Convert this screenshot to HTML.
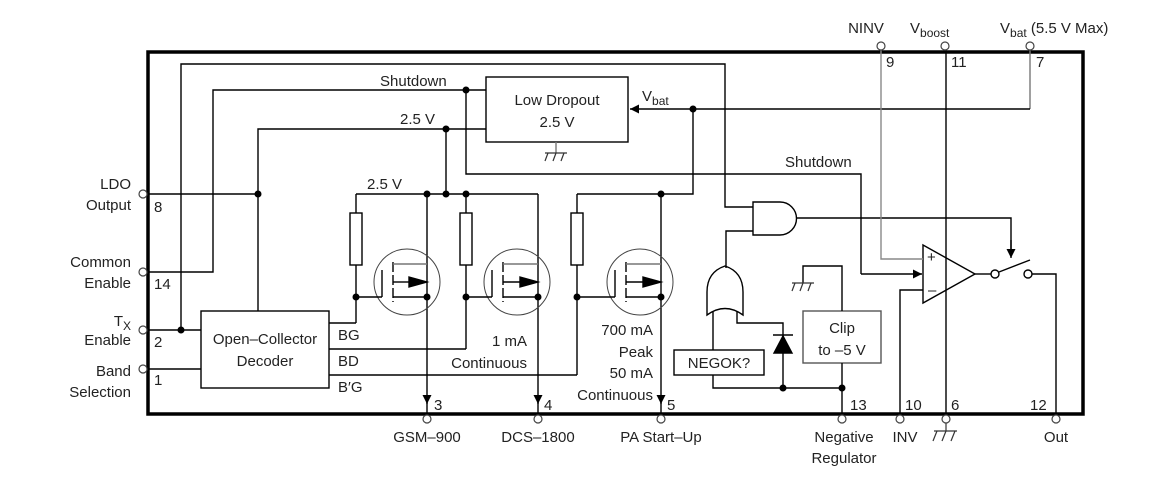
<!DOCTYPE html>
<html><head><meta charset="utf-8"><style>
body{margin:0;background:#fff}
svg{display:block}
text{font-family:"Liberation Sans",Arial,sans-serif;font-size:15px;fill:#222}
</style></head><body>
<svg width="1162" height="481" viewBox="0 0 1162 481" xmlns="http://www.w3.org/2000/svg">
<defs>
<marker id="a" viewBox="0 0 10 10" refX="10" refY="5" markerWidth="9" markerHeight="9" markerUnits="userSpaceOnUse" orient="auto"><path d="M0,0L10,5L0,10z" fill="#000"/></marker>
</defs>
<g fill="none" stroke="#000" stroke-width="1.4">
<rect x="148" y="52" width="935" height="362" stroke-width="3.5"/>
<polyline points="181,330 181,64 725,64 725,207 753,207"/>
<polyline points="148,272 213,272 213,90 486,90"/>
<polyline points="466,90 466,174 861,174 861,274"/>
<line x1="861" y1="274" x2="922" y2="274" marker-end="url(#a)"/>
<rect x="486" y="77" width="142" height="65"/>
<line x1="556" y1="142" x2="556" y2="153" stroke="#777"/>
<polyline points="258,311 258,129 486,129"/>
<line x1="446" y1="129" x2="446" y2="194"/>
<line x1="148" y1="194" x2="258" y2="194"/>
<polyline points="1030,50 1030,109" stroke="#777"/>
<polyline points="1030,109 693,109"/>
<line x1="693" y1="109" x2="630" y2="109" marker-end="url(#a)"/>
<polyline points="693,109 693,194 577,194"/>
<line x1="356" y1="194" x2="538" y2="194"/>
<line x1="356" y1="194" x2="356" y2="213"/><rect x="350" y="213" width="12" height="52" fill="#fff"/><line x1="356" y1="265" x2="356" y2="323"/>
<line x1="466" y1="194" x2="466" y2="213"/><rect x="460" y="213" width="12" height="52" fill="#fff"/><line x1="466" y1="265" x2="466" y2="349"/>
<line x1="577" y1="194" x2="577" y2="213"/><rect x="571" y="213" width="12" height="52" fill="#fff"/><line x1="577" y1="265" x2="577" y2="375"/>
<line x1="427" y1="194" x2="427" y2="404" marker-end="url(#a)"/><line x1="427" y1="400" x2="427" y2="415"/>
<line x1="538" y1="194" x2="538" y2="404" marker-end="url(#a)"/><line x1="538" y1="400" x2="538" y2="415"/>
<line x1="661" y1="194" x2="661" y2="404" marker-end="url(#a)"/><line x1="661" y1="400" x2="661" y2="415"/>
<rect x="201" y="311" width="128" height="77"/>
<line x1="148" y1="330" x2="201" y2="330"/>
<line x1="148" y1="369" x2="201" y2="369"/>
<polyline points="329,323 356,323"/>
<polyline points="329,349 466,349"/>
<polyline points="329,375 577,375"/>
<path d="M753,202 L780,202 A16.5,16.5 0 0 1 780,235 L753,235 Z"/>
<polyline points="797,218 1011,218 1011,254"/>
<line x1="1011" y1="240" x2="1011" y2="258" marker-end="url(#a)"/>
<polyline points="753,231 726,231 726,268"/>
<path d="M707,315 L707,292 Q707,272 725,266 Q743,272 743,292 L743,315 Q725,302 707,315 Z"/>
<polyline points="713,312 713,350"/>
<polyline points="737,311 737,323 783,323 783,388"/>
<path d="M774,353 L792,353 L783,336 Z" fill="#000"/>
<line x1="773" y1="335" x2="793" y2="335"/>
<rect x="674" y="350" width="90" height="25"/>
<polyline points="713,375 713,388 842,388 842,415"/>
<rect x="803" y="311" width="78" height="52" stroke="#555"/>
<polyline points="842,311 842,266 803,266 803,283"/>
<line x1="842" y1="363" x2="842" y2="388"/>
<path d="M923,245 L975,274 L923,303 Z"/>
<polyline points="881,50 881,259 923,259" stroke="#888"/>
<polyline points="900,415 900,290 923,290"/>
<line x1="946" y1="50" x2="946" y2="415"/>
<line x1="975" y1="274" x2="991" y2="274"/>
<circle cx="995" cy="274" r="4" fill="#fff"/>
<line x1="999" y1="272" x2="1030" y2="260"/>
<circle cx="1028" cy="274" r="4" fill="#fff"/>
<polyline points="1032,274 1056,274 1056,415"/>
<g>
<circle cx="407" cy="282" r="33" stroke="#444" stroke-width="1"/>
<line x1="382" y1="270" x2="382" y2="297"/><line x1="356" y1="297" x2="382" y2="297"/>
<line x1="393" y1="262" x2="393" y2="302" stroke-dasharray="10,3"/>
<line x1="393" y1="264" x2="427" y2="264" stroke="#777"/>
<line x1="393" y1="282" x2="409" y2="282"/><path d="M409,277 L427,282 L409,287Z" fill="#000"/>
<line x1="393" y1="297" x2="427" y2="297"/>
</g>
<g transform="translate(110,0)">
<circle cx="407" cy="282" r="33" stroke="#444" stroke-width="1"/>
<line x1="382" y1="270" x2="382" y2="297"/><line x1="356" y1="297" x2="382" y2="297"/>
<line x1="393" y1="262" x2="393" y2="302" stroke-dasharray="10,3"/>
<line x1="393" y1="264" x2="428" y2="264" stroke="#777"/>
<line x1="393" y1="282" x2="410" y2="282"/><path d="M410,277 L428,282 L410,287Z" fill="#000"/>
<line x1="393" y1="297" x2="428" y2="297"/>
</g>
<g transform="translate(233,0)">
<circle cx="407" cy="282" r="33" stroke="#444" stroke-width="1"/>
<line x1="382" y1="270" x2="382" y2="297"/><line x1="344" y1="297" x2="382" y2="297"/>
<line x1="393" y1="262" x2="393" y2="302" stroke-dasharray="10,3"/>
<line x1="393" y1="264" x2="428" y2="264" stroke="#777"/>
<line x1="393" y1="282" x2="410" y2="282"/><path d="M410,277 L428,282 L410,287Z" fill="#000"/>
<line x1="393" y1="297" x2="428" y2="297"/>
</g>
<g stroke="#333" stroke-width="1.2">
<line x1="545" y1="153" x2="567" y2="153"/><line x1="548" y1="153" x2="545" y2="161"/><line x1="556" y1="153" x2="553" y2="161"/><line x1="564" y1="153" x2="561" y2="161"/>
<line x1="792" y1="283" x2="814" y2="283"/><line x1="795" y1="283" x2="792" y2="291"/><line x1="803" y1="283" x2="800" y2="291"/><line x1="811" y1="283" x2="808" y2="291"/>
<line x1="946" y1="423" x2="946" y2="431"/><line x1="934" y1="431" x2="957" y2="431"/><line x1="937" y1="431" x2="933" y2="441"/><line x1="946" y1="431" x2="942" y2="441"/><line x1="955" y1="431" x2="951" y2="441"/>
</g>
<g fill="#fff" stroke="#444" stroke-width="1.2">
<circle cx="143" cy="194" r="4"/><circle cx="143" cy="272" r="4"/><circle cx="143" cy="330" r="4"/><circle cx="143" cy="369" r="4"/>
<circle cx="881" cy="46" r="4"/><circle cx="945" cy="46" r="4"/><circle cx="1030" cy="46" r="4"/>
<circle cx="427" cy="419" r="4"/><circle cx="538" cy="419" r="4"/><circle cx="661" cy="419" r="4"/><circle cx="842" cy="419" r="4"/><circle cx="900" cy="419" r="4"/><circle cx="946" cy="419" r="4"/><circle cx="1056" cy="419" r="4"/>
</g>
</g>
<g fill="#000">
<circle cx="466" cy="90" r="3.5"/><circle cx="446" cy="129" r="3.5"/><circle cx="693" cy="109" r="3.5"/>
<circle cx="258" cy="194" r="3.5"/><circle cx="427" cy="194" r="3.5"/><circle cx="446" cy="194" r="3.5"/><circle cx="466" cy="194" r="3.5"/><circle cx="661" cy="194" r="3.5"/>
<circle cx="356" cy="297" r="3.5"/><circle cx="427" cy="297" r="3.5"/><circle cx="466" cy="297" r="3.5"/><circle cx="538" cy="297" r="3.5"/><circle cx="577" cy="297" r="3.5"/><circle cx="661" cy="297" r="3.5"/>
<circle cx="181" cy="330" r="3.5"/><circle cx="783" cy="388" r="3.5"/><circle cx="842" cy="388" r="3.5"/>
</g>
<text x="380" y="86">Shutdown</text>
<text x="400" y="124">2.5 V</text>
<text x="367" y="189">2.5 V</text>
<text x="557" y="105" text-anchor="middle">Low Dropout</text>
<text x="557" y="127" text-anchor="middle">2.5 V</text>
<text x="642" y="101">V<tspan font-size="12" dy="4">bat</tspan></text>
<text x="785" y="167">Shutdown</text>
<text x="265" y="344" text-anchor="middle">Open–Collector</text>
<text x="265" y="366" text-anchor="middle">Decoder</text>
<text x="338" y="340">BG</text><text x="338" y="366">BD</text><text x="338" y="392">B′G</text>
<text x="527" y="346" text-anchor="end">1 mA</text>
<text x="527" y="368" text-anchor="end">Continuous</text>
<text x="653" y="335" text-anchor="end">700 mA</text>
<text x="653" y="357" text-anchor="end">Peak</text>
<text x="653" y="378" text-anchor="end">50 mA</text>
<text x="653" y="400" text-anchor="end">Continuous</text>
<text x="719" y="368" text-anchor="middle">NEGOK?</text>
<text x="842" y="333" text-anchor="middle">Clip</text>
<text x="842" y="355" text-anchor="middle">to –5 V</text>
<text x="927" y="262" font-size="13">+</text><text x="928" y="295" font-size="13">–</text>
<text x="131" y="189" text-anchor="end">LDO</text><text x="131" y="210" text-anchor="end">Output</text>
<text x="131" y="267" text-anchor="end">Common</text><text x="131" y="288" text-anchor="end">Enable</text>
<text x="131" y="326" text-anchor="end">T<tspan font-size="12" dy="4">X</tspan></text><text x="131" y="345" text-anchor="end">Enable</text>
<text x="131" y="376" text-anchor="end">Band</text><text x="131" y="397" text-anchor="end">Selection</text>
<text x="154" y="212">8</text><text x="154" y="289">14</text><text x="154" y="347">2</text><text x="154" y="385">1</text>
<text x="434" y="410">3</text><text x="544" y="410">4</text><text x="667" y="410">5</text>
<text x="850" y="410">13</text><text x="905" y="410">10</text><text x="951" y="410">6</text><text x="1030" y="410">12</text>
<text x="427" y="442" text-anchor="middle">GSM–900</text>
<text x="538" y="442" text-anchor="middle">DCS–1800</text>
<text x="661" y="442" text-anchor="middle">PA Start–Up</text>
<text x="844" y="442" text-anchor="middle">Negative</text><text x="844" y="463" text-anchor="middle">Regulator</text>
<text x="905" y="442" text-anchor="middle">INV</text>
<text x="1056" y="442" text-anchor="middle">Out</text>
<text x="886" y="67">9</text><text x="951" y="67">11</text><text x="1036" y="67">7</text>
<text x="866" y="33" text-anchor="middle">NINV</text>
<text x="910" y="33">V<tspan font-size="12" dy="4">boost</tspan></text>
<text x="1000" y="33">V<tspan font-size="12" dy="4">bat</tspan><tspan dy="-4"> (5.5 V Max)</tspan></text>
</svg>
</body></html>
